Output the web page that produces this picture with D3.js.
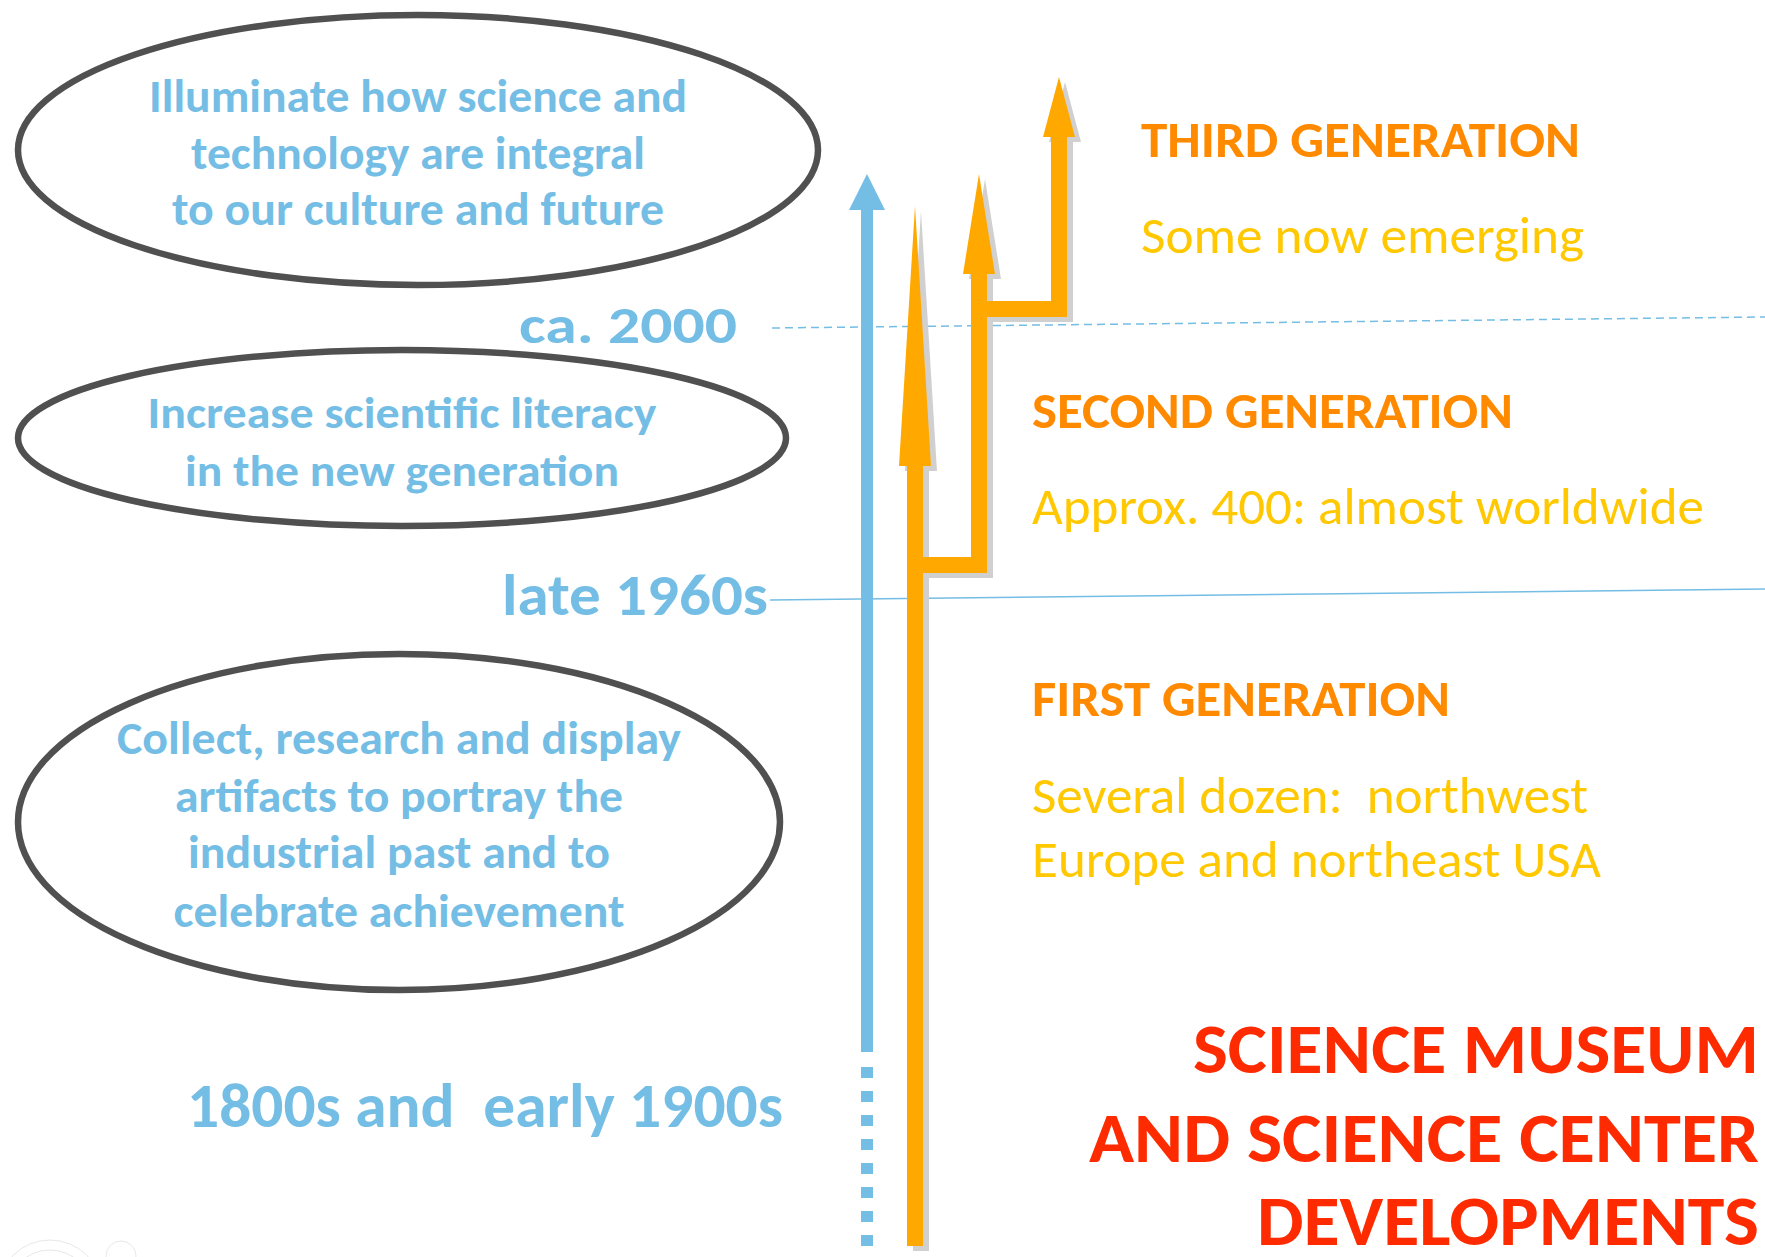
<!DOCTYPE html>
<html>
<head>
<meta charset="utf-8">
<script src="https://cdn.jsdelivr.net/npm/d3@7"></script>
<style>
  html, body { margin: 0; padding: 0; background: #fff; }
  svg { display: block; }
  text { white-space: pre; }
</style>
</head>
<body>
<div id="chart"></div>
<script>
// ---- content ----
const eraLabels = ["1800s and  early 1900s", "late 1960s", "ca. 2000"];
const goalFirst = ["Collect, research and display", "artifacts to portray the", "industrial past and to", "celebrate achievement"];
const goalSecond = ["Increase scientific literacy", "in the new generation"];
const goalThird = ["Illuminate how science and", "technology are integral", "to our culture and future"];
const generationTitles = ["FIRST GENERATION", "SECOND GENERATION", "THIRD GENERATION"];
const generationNotes = [
  ["Several dozen:  northwest", "Europe and northeast USA"],
  ["Approx. 400: almost worldwide"],
  ["Some now emerging"]
];
const titleLines = ["SCIENCE MUSEUM", "AND SCIENCE CENTER", "DEVELOPMENTS"];

// ---- page setup ----
const W = 1765, H = 1257;
const FONT = 'Carlito, Calibri, Lato, "Open Sans", sans-serif';
const colors = {
  blue: "#74bde4", orange: "#ffa800", shadow: "#d0d0d0", ring: "#505050",
  heading: "#ff8a00", note: "#ffc800", title: "#ff2b00"
};

const svg = d3.select("#chart").append("svg")
  .attr("width", W).attr("height", H)
  .style("font-family", FONT);

// cap height of the font actually used, so sizes match the picture
const ctx = document.createElement("canvas").getContext("2d");
const capCache = {};
function capRatio(weight) {
  if (!capCache[weight]) {
    ctx.font = `${weight} 200px ${FONT}`;
    capCache[weight] = ctx.measureText("H").actualBoundingBoxAscent / 200;
  }
  return capCache[weight];
}

function addText(g, str, o) {
  const t = g.append("text")
    .attr("x", o.x).attr("y", o.y)
    .attr("text-anchor", o.anchor || "start")
    .attr("font-weight", o.weight)
    .attr("font-size", (o.cap / capRatio(o.weight)).toFixed(1))
    .attr("fill", o.fill)
    .text(str);
  if (o.width) t.attr("textLength", o.width).attr("lengthAdjust", "spacingAndGlyphs");
  return t;
}

// faint mark in the lower left corner
const faint = svg.append("g").attr("fill", "none").attr("stroke", "#e8e8e8").attr("stroke-width", 1);
faint.append("circle").attr("cx", 50).attr("cy", 1292).attr("r", 52);
faint.append("circle").attr("cx", 50).attr("cy", 1292).attr("r", 42);
faint.append("circle").attr("cx", 121).attr("cy", 1256).attr("r", 15);

// ---- era lines ----
const lineGen = d3.line();
svg.append("path")
  .attr("d", lineGen([[770, 600], [W, 589]]))
  .attr("stroke", colors.blue).attr("stroke-width", 1.5).attr("fill", "none");
svg.append("path")
  .attr("d", lineGen([[772, 328], [W, 317]]))
  .attr("stroke", colors.blue).attr("stroke-width", 1.5).attr("fill", "none")
  .attr("stroke-dasharray", "8,5");

// ---- goal ellipses ----
const ringLayout = [
  { lines: goalFirst, cx: 399, cy: 822, rx: 381, ry: 168, tx: 399, cap: 30,
    rows: [[754, 564], [812, 448], [868, 422], [927, 451]] },
  { lines: goalSecond, cx: 402, cy: 438, rx: 384, ry: 88, tx: 402, cap: 29,
    rows: [[428, 509], [486, 434]] },
  { lines: goalThird, cx: 418, cy: 150, rx: 400, ry: 135, tx: 418, cap: 30,
    rows: [[112, 538], [169, 454], [225, 492]] }
];

const rings = svg.append("g");
ringLayout.forEach(r => {
  rings.append("ellipse")
    .attr("cx", r.cx).attr("cy", r.cy).attr("rx", r.rx).attr("ry", r.ry)
    .attr("fill", "none").attr("stroke", colors.ring).attr("stroke-width", 6.5);
  r.lines.forEach((s, i) => {
    addText(rings, s, { x: r.tx, y: r.rows[i][0], width: r.rows[i][1], anchor: "middle",
      weight: 700, cap: r.cap, fill: colors.blue });
  });
});

// ---- era labels ----
const eraLayout = [
  { x: 187, y: 1127, w: 596, cap: 41 },
  { x: 502, y: 615, w: 266, cap: 38 },
  { x: 519, y: 343, w: 218, cap: 35 }
];
eraLabels.forEach((s, i) => {
  const e = eraLayout[i];
  addText(svg, s, { x: e.x, y: e.y, width: e.w, weight: 700, cap: e.cap, fill: colors.blue });
});

// ---- timeline arrows ----
// polygon for an upward arrow: shaft from bottom to head base, then head to tip
function arrowPoints(a) {
  const s = a.shaft / 2, h = a.head / 2;
  return [
    [a.x - s, a.bottom], [a.x - s, a.base], [a.x - h, a.base], [a.x, a.tip],
    [a.x + h, a.base], [a.x + s, a.base], [a.x + s, a.bottom]
  ];
}
function rectPoints(x0, x1, y0, y1) {
  return [[x0, y0], [x1, y0], [x1, y1], [x0, y1]];
}
const poly = d3.line().curve(d3.curveLinearClosed);

const museum = { x: 867, shaft: 12, head: 36, bottom: 1052, base: 210, tip: 174 };
const gen1 = { x: 915, shaft: 16, head: 32, bottom: 1246, base: 466, tip: 206 };
const gen2 = { x: 979, shaft: 16, head: 32, bottom: 573, base: 274, tip: 174 };
const gen3 = { x: 1059, shaft: 16, head: 32, bottom: 317, base: 137, tip: 77 };

const orangeShapes = [
  arrowPoints(gen1),
  arrowPoints(gen2),
  arrowPoints(gen3),
  rectPoints(gen1.x, gen2.x + gen2.shaft / 2, gen2.bottom - 16, gen2.bottom),
  rectPoints(gen2.x, gen3.x + gen3.shaft / 2, gen3.bottom - 16, gen3.bottom)
];

const arrows = svg.append("g");
arrows.append("g").attr("transform", "translate(6,5)")
  .selectAll("path").data(orangeShapes).join("path")
  .attr("d", d => poly(d)).attr("fill", colors.shadow);
arrows.append("g")
  .selectAll("path").data(orangeShapes).join("path")
  .attr("d", d => poly(d)).attr("fill", colors.orange);

// blue museum arrow, with a dotted tail for the earliest period
arrows.append("path").attr("d", poly(arrowPoints(museum))).attr("fill", colors.blue);
arrows.append("path")
  .attr("d", lineGen([[museum.x, 1246], [museum.x, 1060]]))
  .attr("stroke", colors.blue).attr("stroke-width", museum.shaft)
  .attr("stroke-dasharray", "11,13").attr("fill", "none");

// ---- generation notes ----
const genLayout = [
  { x: 1032, head: [716, 418], notes: [[813, 556], [877, 569]] },
  { x: 1032, head: [428, 481], notes: [[524, 672]] },
  { x: 1141, head: [157, 439], notes: [[253, 443]] }
];
generationTitles.forEach((s, i) => {
  const gl = genLayout[i];
  addText(svg, s, { x: gl.x, y: gl.head[0], width: gl.head[1], weight: 700, cap: 33, fill: colors.heading });
  generationNotes[i].forEach((n, j) => {
    addText(svg, n, { x: gl.x, y: gl.notes[j][0], width: gl.notes[j][1], weight: 400, cap: 33, fill: colors.note });
  });
});

// ---- title ----
const titleRows = [[1073, 566], [1162, 670], [1245, 502]];
titleLines.forEach((s, i) => {
  addText(svg, s, { x: 1759, y: titleRows[i][0], width: titleRows[i][1], anchor: "end",
    weight: 700, cap: 46, fill: colors.title });
});
</script>
</body>
</html>
